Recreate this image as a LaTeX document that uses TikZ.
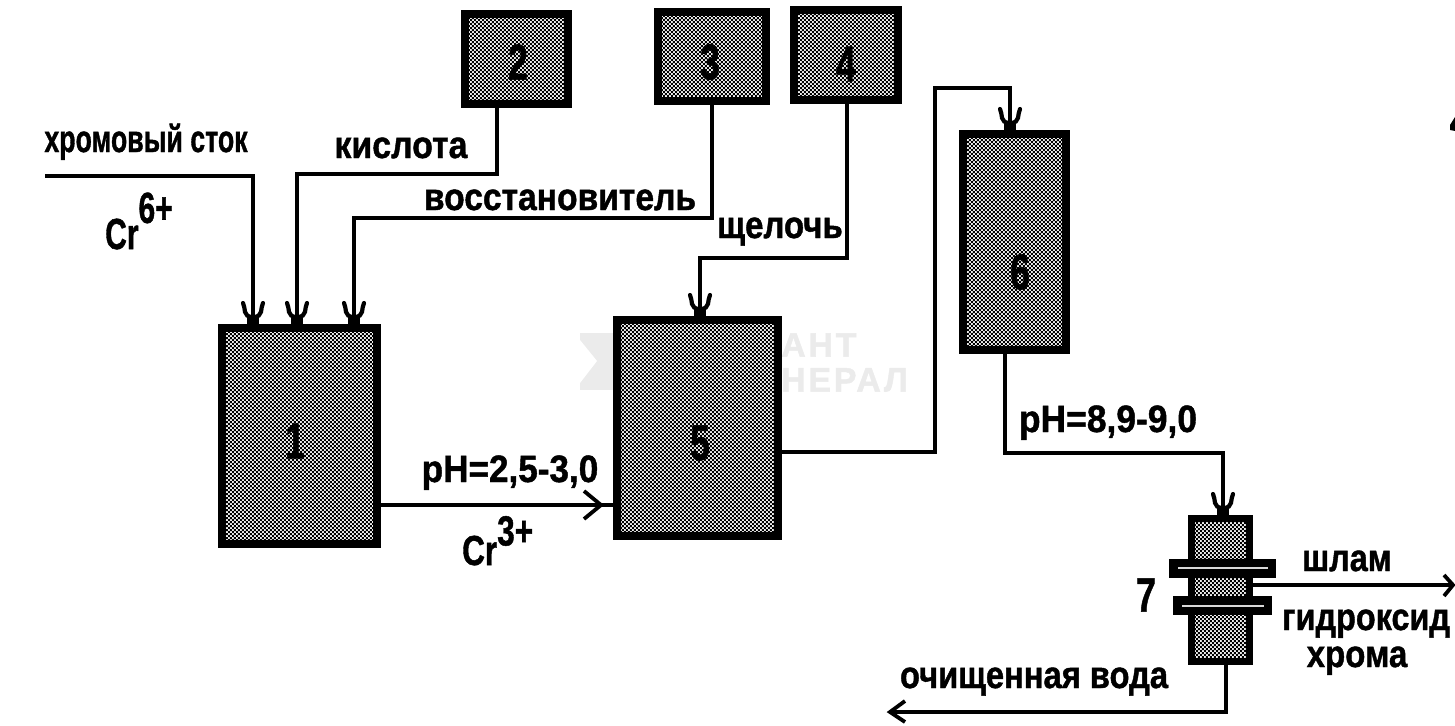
\documentclass[tikz,border=0pt]{standalone}
\usepackage{fontspec}
\setmainfont{Liberation Sans}[BoldFeatures={FakeBold=1.2}]
\usetikzlibrary{patterns,calc}
\pgfdeclarepatternformonly{chk}{\pgfqpoint{0pt}{0pt}}{\pgfqpoint{4.4pt}{4.4pt}}{\pgfqpoint{4.4pt}{4.4pt}}{%
  \pgfpathrectangle{\pgfqpoint{0pt}{0pt}}{\pgfqpoint{2.2pt}{2.2pt}}%
  \pgfpathrectangle{\pgfqpoint{2.2pt}{2.2pt}}{\pgfqpoint{2.2pt}{2.2pt}}%
  \pgfusepath{fill}}
\definecolor{shade}{gray}{0.93}
\definecolor{wm}{gray}{0.92}
\newcommand{\lb}[2]{\scalebox{#1}[1.27]{#2}}
\tikzset{
  x=1pt,y=-1pt,
  tank/.style={draw=black,line width=8pt,rectangle,inner sep=0pt,
    preaction={fill=shade},pattern=chk,pattern color=black},
  num/.style={inner sep=0pt,anchor=center,text=black,font=\bfseries\fontsize{42}{42}\selectfont},
  flange/.style={fill=black,rectangle,inner sep=0pt,minimum height=19pt},
  slit/.style={draw=white!85!black,line width=2.5pt},
  pipe/.style={line width=3.6pt,line cap=butt,line join=miter},
  lbl/.style={inner sep=0pt,font=\bfseries\fontsize{30}{30}\selectfont,text=black,anchor=base},
  lblw/.style={lbl,anchor=base west},
  opn/.style={line width=3.8pt},
  horn/.style={line width=4.2pt,line cap=round},
  wmk/.style={inner sep=0pt,text=wm,font=\bfseries\fontsize{34}{34}\selectfont\addfontfeatures{LetterSpace=8},anchor=west}
}
\newcommand{\forkin}[1]{%
  \fill ($(#1)+(-6,0)$) rectangle ($(#1)+(6,-7)$);
  \draw[horn] ($(#1)+(-10,-21)$) .. controls ($(#1)+(-7,-16)$) and ($(#1)+(-11,-7)$) .. ($(#1)+(0,-7)$);
  \draw[horn] ($(#1)+(10,-21)$) .. controls ($(#1)+(7,-16)$) and ($(#1)+(11,-7)$) .. ($(#1)+(0,-7)$);}
\begin{document}
\begin{tikzpicture}
\useasboundingbox (0,0) rectangle (1455,725);
\fill[white] (0,0) rectangle (1455,725);
% watermark
\fill[wm] (580,333) rectangle (616,390);
\fill[white] (580,340) -- (597,361) -- (580,383) -- cycle;
\node[wmk] (wma) at (781,345) {АНТ};
\node[wmk] (wmb) at (781,380) {НЕРАЛ};
% tanks
\node[tank,minimum width=155pt,minimum height=216pt] (t1) at (299.5,436) {};
\node[tank,minimum width=103pt,minimum height=90pt] (t2) at (516.5,59) {};
\node[tank,minimum width=108pt,minimum height=89pt] (t3) at (712,56.5) {};
\node[tank,minimum width=104pt,minimum height=90pt] (t4) at (846,55) {};
\node[tank,minimum width=161pt,minimum height=216pt] (t5) at (697.5,428) {};
\node[tank,minimum width=103pt,minimum height=216pt] (t6) at (1014.5,242) {};
\node[tank,minimum width=58pt,minimum height=143pt,line width=7pt] (t7) at (1220.5,590) {};
\node[flange,minimum width=107pt] (f1) at (1222.5,568.5) {};
\node[flange,minimum width=99pt] (f2) at (1222.5,605.5) {};
\draw[slit] (1178,568) -- (1268,568);
\draw[slit] (1182,606) -- (1264,606);
% numbers
\node[num] (n1) at (295,441) {\scalebox{.85}[1.2]{1}};
\node[num] (n2) at (518,62) {\scalebox{.85}[1.2]{2}};
\node[num] (n3) at (710,62) {\scalebox{.85}[1.2]{3}};
\node[num] (n4) at (846,64) {\scalebox{.85}[1.2]{4}};
\node[num] (n5) at (700,443) {\scalebox{.85}[1.2]{5}};
\node[num] (n6) at (1020,272) {\scalebox{.85}[1.2]{6}};
% free ends and joints
\coordinate (s0) at (45,176);
\coordinate (in1a) at (253,324);
\coordinate (in1b) at (297,324);
\coordinate (in1c) at (354,324);
\coordinate (in5) at (700,316);
\coordinate (in6) at (1010,130);
\coordinate (in7) at (1223,515);
\coordinate (out2) at (497,108);
\coordinate (out3) at (712,105);
\coordinate (out4) at (847,104);
\coordinate (out5) at (782,452);
\coordinate (out6) at (1005,354);
\coordinate (out7) at (1226,664);
\coordinate (out7b) at (1253,585);
\coordinate (out1) at (381,505);
\coordinate (in5b) at (613,505);
\coordinate (e1) at (1453,585);
\coordinate (e2) at (890,712);
% pipes
\draw[pipe] (s0) -| (in1a);
\draw[pipe] (out2) |- (297,174) -- (in1b);
\draw[pipe] (out3) |- (354,218) -- (in1c);
\draw[pipe] (out4) |- (700,258) -- (in5);
\draw[pipe] (out5) -| (935,88) -| (in6);
\draw[pipe] (out6) |- (1223,453) -- (in7);
\draw[pipe] (out1) -- (in5b);
\draw[pipe] (out7b) -- (e1);
\draw[pipe] (out7) |- (e2);
% inlet heads
\forkin{in1a}\forkin{in1b}\forkin{in1c}\forkin{in5}\forkin{in6}\forkin{in7}
% open heads
\draw[opn] (584,491) -- (601,505) -- (584,519);
\draw[opn] (1444,575) -- (1453,585) -- (1444,596);
\draw[opn] (905,701) -- (890,712) -- (905,722);
% corner fragment
\fill (1455,117) -- (1450,125) -- (1450,130) -- (1455,131) -- cycle;
% labels
\node[lbl] (l1) at (146,152) {\lb{.89}{хромовый сток}};
\node[lbl] (l2) at (401,158) {\lb{1.13}{кислота}};
\node[lbl] (l3) at (560,210) {\lb{1.12}{восстановитель}};
\node[lbl] (l4) at (780,238) {\lb{1.10}{щелочь}};
\node[lblw] (l5) at (105,249) {\scalebox{1}[1.45]{Cr\raisebox{18pt}{6+}}};
\node[lbl] (l6) at (510,482) {\lb{1.17}{pH=2,5-3,0}};
\node[lblw] (l7) at (462,565) {\scalebox{1.05}[1.4]{Cr\raisebox{14pt}{3+}}};
\node[lbl] (l8) at (1108,432) {\lb{1.18}{pH=8,9-9,0}};
\node[lbl] (l9) at (1347,571) {\lb{1.08}{шлам}};
\node[lbl] (l10) at (1366,630) {\lb{1.08}{гидроксид}};
\node[lbl] (l11) at (1357,667) {\lb{1.10}{хрома}};
\node[lbl] (l12) at (1034,688) {\lb{1.09}{очищенная вода}};
\node[num] (l13) at (1146,595) {\scalebox{.85}[1.15]{7}};
\end{tikzpicture}
\end{document}
